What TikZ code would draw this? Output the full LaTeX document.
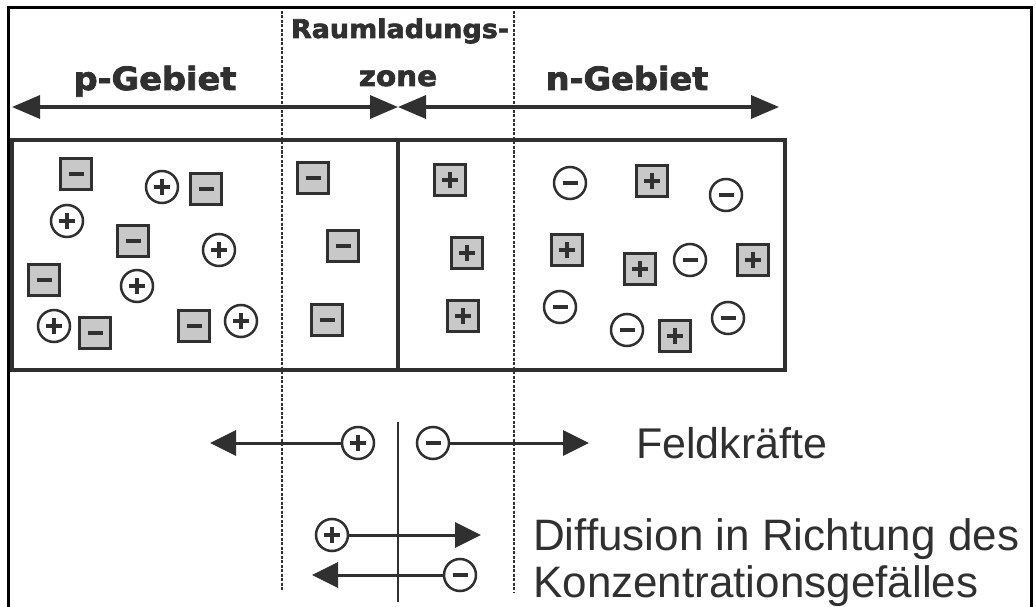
\documentclass[tikz,border=0pt]{standalone}
\usepackage{fontspec}
\setmainfont{Liberation Sans}
\newfontfamily\hdrfont{DejaVu Sans}[FakeStretch=1.05,FakeBold=2.5]
\usetikzlibrary{arrows.meta}
\definecolor{dk}{HTML}{303030}
\definecolor{gr}{HTML}{C8C8C8}
\tikzset{
  hdr/.style={text=dk, inner sep=0pt, anchor=base, font=\hdrfont\bfseries\fontsize{#1}{#1}\selectfont},
  lbl/.style={text=dk, inner sep=0pt, anchor=base west, font=\fontsize{#1}{#1}\selectfont},
  sepline/.style={dk, line width=2.2pt, dash pattern=on 3pt off 1.5pt},
  boxline/.style={dk, line width=3.8pt},
  bigarr/.style={dk, line width=3.4pt, {Triangle[length=28pt,width=23pt]}-{Triangle[length=28pt,width=23pt]}},
  arr/.style={dk, line width=3pt, -{Triangle[length=26pt,width=25pt]}},
  sq/.style={shape=rectangle, draw=dk, fill=gr, line width=3.2pt, minimum size=31pt, inner sep=0pt},
  ci/.style={shape=circle, draw=dk, fill=white, line width=2.5pt, minimum size=32pt, inner sep=0pt},
  minus/.style={path picture={\draw[dk, line width=3.6pt] ([xshift=-7.5pt]path picture bounding box.center) -- ++(15pt,0pt);}},
  plus/.style={path picture={\draw[dk, line width=3.2pt] ([xshift=-8pt]path picture bounding box.center) -- ++(16pt,0pt) ([yshift=-8pt]path picture bounding box.center) -- ++(0pt,16pt);}},
}
\begin{document}
\begin{tikzpicture}[x=1pt,y=-1pt]
\useasboundingbox (0,0) rectangle (1036,607);
\clip (0,0) rectangle (1036,607);

% dashed boundaries of the space-charge zone
\coordinate (dlt) at (282,11);  \coordinate (dlb) at (282,590);
\coordinate (drt) at (514,11);  \coordinate (drb) at (514,592);
\draw[sepline] (dlt) -- (dlb);
\draw[sepline] (drt) -- (drb);

% headers
\node[hdr=32] (pg) at (155,90) {p-Gebiet};
\node[hdr=25.7] (rl) at (400,38) {Raumladungs-};
\node[hdr=28] (zo) at (398,86) {zone};
\node[hdr=32] (ng) at (627,90) {n-Gebiet};

% top arrows
\coordinate (a1) at (12,107); \coordinate (a2) at (398,107); \coordinate (a3) at (779,107);
\draw[bigarr] (a1) -- (a2);
\draw[bigarr] (a2) -- (a3);

% crystal box
\coordinate (bl) at (12,140); \coordinate (br) at (785,370);
\coordinate (mt) at (398,140); \coordinate (mb) at (398,370);
\draw[boxline] (bl) rectangle (br);
\draw[boxline] (mt) -- (mb);

% p-region: acceptors (squares, minus) and holes (circles, plus)
\node[sq,minus] (pa1) at (76,174) {};
\node[sq,minus] (pa2) at (206,189) {};
\node[sq,minus] (pa3) at (133,241) {};
\node[sq,minus] (pa4) at (44,280) {};
\node[sq,minus] (pa5) at (95,333) {};
\node[sq,minus] (pa6) at (194,326) {};
\node[ci,plus] (ph1) at (162,187) {};
\node[ci,plus] (ph2) at (67,221) {};
\node[ci,plus] (ph3) at (219,250) {};
\node[ci,plus] (ph4) at (137,286) {};
\node[ci,plus] (ph5) at (54,326) {};
\node[ci,plus] (ph6) at (241,321) {};

% space-charge zone
\node[sq,minus] (za1) at (313,178) {};
\node[sq,minus] (za2) at (343,246) {};
\node[sq,minus] (za3) at (327,320) {};
\node[sq,plus] (zd1) at (450,180) {};
\node[sq,plus] (zd2) at (467,253) {};
\node[sq,plus] (zd3) at (463,316) {};

% n-region: donors (squares, plus) and electrons (circles, minus)
\node[sq,plus] (nd1) at (652,181) {};
\node[sq,plus] (nd2) at (567,250) {};
\node[sq,plus] (nd3) at (640,269) {};
\node[sq,plus] (nd4) at (753,260) {};
\node[sq,plus] (nd5) at (675,336) {};
\node[ci,minus] (ne1) at (570,183) {};
\node[ci,minus] (ne2) at (726,195) {};
\node[ci,minus] (ne3) at (690,260) {};
\node[ci,minus] (ne4) at (560,307) {};
\node[ci,minus] (ne5) at (627,330) {};
\node[ci,minus] (ne6) at (728,318) {};

% lower part
\coordinate (vt) at (398,422); \coordinate (vb) at (398,602);
\draw[dk, line width=2.6pt] (vt) -- (vb);

\node[ci,plus] (fp) at (358,443) {};
\node[ci,minus] (fm) at (433,443) {};
\coordinate (fpl) at (210,443); \coordinate (fmr) at (589,443);
\draw[arr] (fp) -- (fpl);
\draw[arr] (fm) -- (fmr);
\node[lbl=43] (feld) at (636,458) {Feldkräfte};

\node[ci,plus] (dp) at (332,535) {};
\node[ci,minus] (dm) at (460,575) {};
\coordinate (dpr) at (481,535); \coordinate (dml) at (312,575);
\draw[arr] (dp) -- (dpr);
\draw[arr] (dm) -- (dml);
\node[lbl=44] (dif1) at (533,550) {Diffusion in Richtung des};
\node[lbl=44] (dif2) at (533,597) {Konzentrationsgefälles};

% outer frame (open at the bottom)
\coordinate (f1) at (8.5,610); \coordinate (f2) at (8.5,7.5);
\coordinate (f3) at (1031.5,7.5); \coordinate (f4) at (1031.5,610);
\draw[black, line width=3pt] (f1) -- (f2) -- (f3) -- (f4);
\end{tikzpicture}
\end{document}
